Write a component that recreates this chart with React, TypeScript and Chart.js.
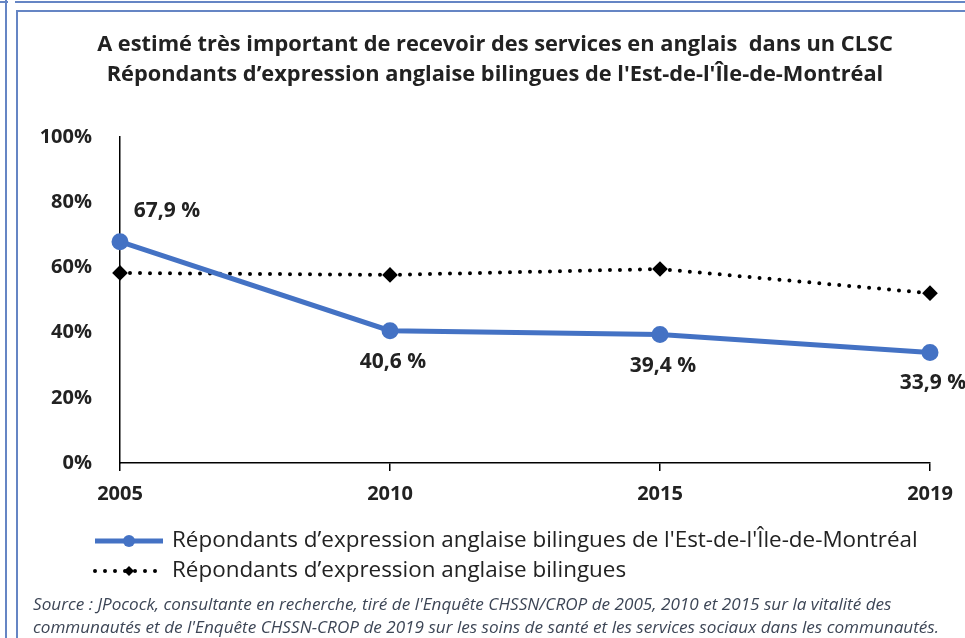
import React, { useEffect, useRef } from "react";
import { Chart, registerables } from "chart.js";

Chart.register(...registerables);

const titleLines = [
  "A estimé très important de recevoir des services en anglais  dans un CLSC",
  "Répondants d’expression anglaise bilingues de l'Est-de-l'Île-de-Montréal",
];
const years = ["2005", "2010", "2015", "2019"];
const seriesEstMontreal = [67.9, 40.6, 39.4, 33.9];
const seriesBilingues = [58.3, 57.7, 59.5, 52.1];
const seriesLabels = [
  "Répondants d’expression anglaise bilingues de l'Est-de-l'Île-de-Montréal",
  "Répondants d’expression anglaise bilingues",
];
const yTickValues = [0, 20, 40, 60, 80, 100];
const sourceLines = [
  "Source : JPocock, consultante en recherche, tiré de l'Enquête CHSSN/CROP de 2005, 2010 et 2015 sur la vitalité des",
  "communautés et de l'Enquête CHSSN-CROP de 2019 sur les soins de santé et les services sociaux dans les communautés.",
];

const FONT = "'Open Sans', Lato, sans-serif";
const BLUE = "#4472C4";
const TEXT = "#222222";
const FRAME = "#6585c4";

const fmt = (v: number) => v.toFixed(1).replace(".", ",") + " %";

// pick a font size so that `text` spans `target` pixels
function fitFont(ctx: CanvasRenderingContext2D, text: string, style: string, target: number, max: number) {
  ctx.font = `${style} 20px ${FONT}`;
  const w = ctx.measureText(text).width;
  const size = Math.min(max, (20 * target) / w);
  return `${style} ${size.toFixed(2)}px ${FONT}`;
}

const decorPlugin = {
  id: "decor",
  afterDraw(chart: any) {
    const ctx = chart.ctx as CanvasRenderingContext2D;
    ctx.save();
    // Title
    ctx.fillStyle = TEXT;
    ctx.font = fitFont(ctx, titleLines[0], "bold", 796, 22);
    ctx.textAlign = "center";
    ctx.textBaseline = "middle";
    ctx.fillText(titleLines[0], 495, 45);
    ctx.fillText(titleLines[1], 495, 75);

    // Data labels for first series
    const meta = chart.getDatasetMeta(0);
    ctx.font = `bold 21px ${FONT}`;
    meta.data.forEach((pt: any, i: number) => {
      const v = chart.data.datasets[0].data[i];
      let dx = 3, dy = 31;
      if (i === 0) { dx = 47; dy = -31; }
      ctx.fillText(fmt(v), pt.x + dx, pt.y + dy);
    });

    // Legend
    const legendY = [541, 571];
    const legendFont = fitFont(ctx, chart.data.datasets[0].label, "normal", 746, 24);
    chart.data.datasets.forEach((ds: any, i: number) => {
      const y = legendY[i];
      ctx.save();
      ctx.strokeStyle = ds.borderColor;
      ctx.lineWidth = ds.borderWidth;
      ctx.lineCap = ds.borderCapStyle || "butt";
      ctx.setLineDash(ds.borderDash || []);
      ctx.beginPath();
      ctx.moveTo(95, y);
      ctx.lineTo(163, y);
      ctx.stroke();
      ctx.setLineDash([]);
      ctx.fillStyle = ds.pointBackgroundColor;
      ctx.beginPath();
      if (ds.pointStyle === "rectRot") {
        const r = ds.pointRadius;
        ctx.moveTo(129, y - r);
        ctx.lineTo(129 + r, y);
        ctx.lineTo(129, y + r);
        ctx.lineTo(129 - r, y);
        ctx.closePath();
      } else {
        ctx.arc(129, y, ds.pointRadius, 0, Math.PI * 2);
      }
      ctx.fill();
      ctx.restore();
      ctx.fillStyle = TEXT;
      ctx.font = legendFont;
      ctx.textAlign = "left";
      ctx.textBaseline = "middle";
      ctx.fillText(ds.label, 172, y);
    });

    // Source
    ctx.fillStyle = "#3d4656";
    ctx.font = fitFont(ctx, sourceLines[1], "italic", 907, 18);
    ctx.textAlign = "left";
    ctx.textBaseline = "middle";
    ctx.fillText(sourceLines[0], 33, 605);
    ctx.fillText(sourceLines[1], 33, 628);
    ctx.restore();
  },
};

function LineChart() {
  const ref = useRef<HTMLCanvasElement | null>(null);
  useEffect(() => {
    if (!ref.current) return;
    const chart = new Chart(ref.current, {
      type: "line",
      data: {
        labels: years,
        datasets: [
          {
            label: seriesLabels[0],
            data: seriesEstMontreal,
            borderColor: BLUE,
            backgroundColor: BLUE,
            pointBackgroundColor: BLUE,
            pointBorderColor: BLUE,
            borderWidth: 5,
            pointRadius: 6,
            pointStyle: "circle",
            tension: 0,
          } as any,
          {
            label: seriesLabels[1],
            data: seriesBilingues,
            borderColor: "#000000",
            backgroundColor: "#000000",
            pointBackgroundColor: "#000000",
            pointBorderColor: "#000000",
            borderWidth: 4,
            borderDash: [0, 10],
            borderCapStyle: "round",
            pointRadius: 5,
            pointStyle: "rectRot",
            tension: 0,
          } as any,
        ],
      },
      options: {
        animation: false,
        responsive: false,
        maintainAspectRatio: false,
        layout: { padding: { top: 137, left: 0, right: 35, bottom: 125 } },
        plugins: {
          legend: { display: false },
          title: { display: false },
          tooltip: { enabled: false },
        },
        scales: {
          x: {
            offset: false,
            grid: {
              display: true,
              drawOnChartArea: false,
              drawTicks: true,
              tickLength: 8,
              color: "#000000",
              lineWidth: 1.5,
            },
            border: { display: true, color: "#000000", width: 1.5 },
            ticks: {
              color: TEXT,
              font: { family: FONT, size: 20, weight: "bold" },
              padding: 11,
              maxRotation: 0,
            },
            afterFit(scale: any) {
              scale.height = 50;
            },
          },
          y: {
            min: 0,
            max: 100,
            afterBuildTicks(scale: any) {
              scale.ticks = yTickValues.map((v) => ({ value: v }));
            },
            grid: { display: false, drawTicks: false },
            border: { display: true, color: "#000000", width: 1.5 },
            ticks: {
              color: TEXT,
              font: { family: FONT, size: 20, weight: "bold" },
              padding: 28,
              callback: (v: any) => v + "%",
            },
            afterFit(scale: any) {
              scale.width = 120;
            },
          },
        },
      },
      plugins: [decorPlugin],
    });
    return () => chart.destroy();
  }, []);
  return <canvas ref={ref} width={965} height={638} style={{ display: "block" }} />;
}

export default function App() {
  const line = (s: React.CSSProperties) => (
    <div style={{ position: "absolute", background: FRAME, ...s }} />
  );
  return (
    <div style={{ position: "fixed", left: 0, top: 0, width: 965, height: 638, background: "#fff", overflow: "hidden" }}>
      <LineChart />
      {line({ left: 5, top: 0, width: 2, height: 638 })}
      {line({ left: 0, top: 1, width: 8, height: 2 })}
      {line({ left: 15, top: 1, width: 950, height: 2 })}
      {line({ left: 16, top: 10, width: 2, height: 628 })}
      {line({ left: 16, top: 10, width: 949, height: 2 })}
    </div>
  );
}
